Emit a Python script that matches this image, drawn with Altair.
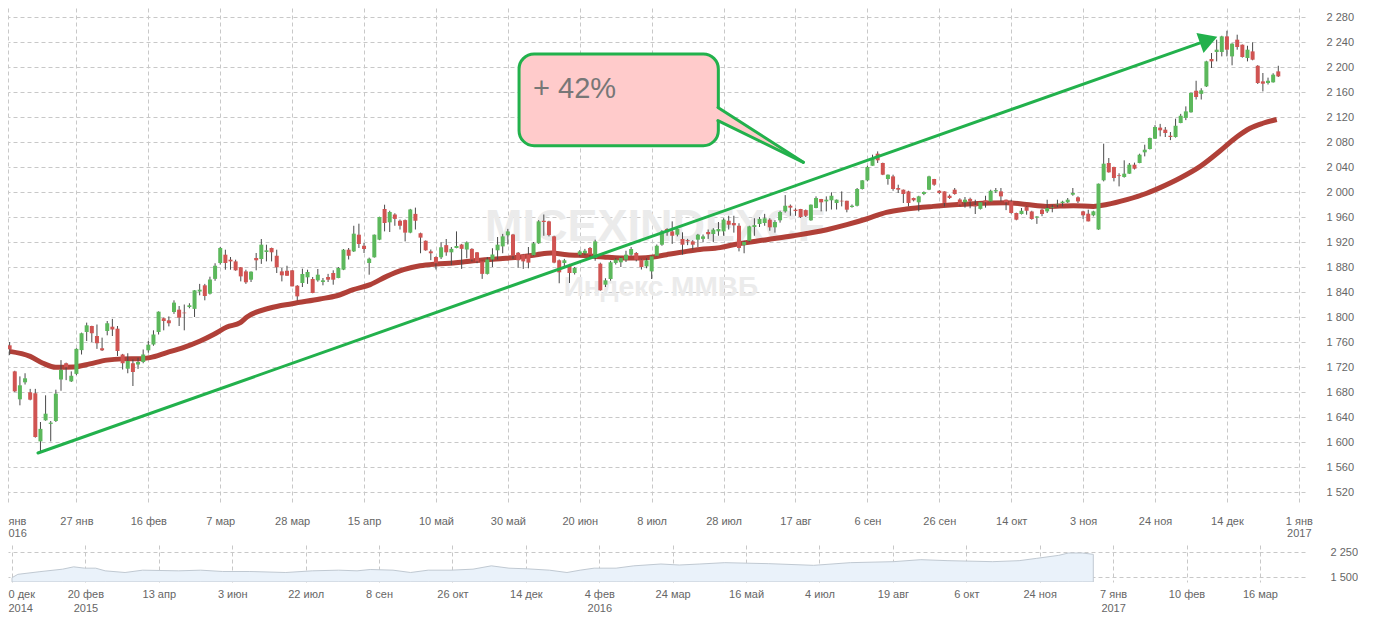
import altair as alt
import pandas as pd

# ---------------- data ----------------
# trading-day index of each candle (x axis is in trading days)
idx = list(range(1, 249))

opens = [1754.7, 1713, 1668.3, 1695.5, 1679.5, 1678, 1601, 1634.7, 1629, 1633.6,
         1700, 1726, 1697, 1709, 1747, 1776, 1785.6, 1769.6, 1750, 1777.6,
         1784.5, 1781.3, 1740, 1717.3, 1726, 1724, 1728, 1746.7, 1756, 1776,
         1798, 1794.7, 1808, 1811.7, 1807, 1816, 1813, 1840.8, 1850.7, 1837.3,
         1861, 1886.4, 1899.7, 1891.7, 1889, 1879.5, 1873, 1859.7, 1894.4, 1892.8,
         1904, 1910.4, 1898, 1873, 1874, 1874.7, 1850, 1854.4, 1863.5, 1860.8,
         1858.7, 1856, 1864, 1870.4, 1862.4, 1875.7, 1907.7, 1905, 1931.7, 1914,
         1886.4, 1895.5, 1923.7, 1972.8, 1951.5, 1964, 1954, 1955, 1935, 1965,
         1934, 1922, 1905, 1896, 1895.5, 1915, 1903.5, 1910.4, 1916, 1908,
         1909, 1903.5, 1889, 1869, 1892, 1906.7, 1913, 1930.7, 1932, 1903,
         1900, 1900, 1899, 1918, 1954, 1953, 1929, 1890.7, 1886.4, 1882,
         1870.4, 1899.7, 1902, 1910.4, 1894.4, 1885.3, 1851.7, 1860.8, 1886.4, 1887.5,
         1891.7, 1899.7, 1902.4, 1891.7, 1881, 1873, 1898, 1915.7, 1940.8, 1937,
         1931.7, 1924.8, 1923, 1921, 1923.7, 1925, 1936, 1932.8, 1937, 1937,
         1954, 1950.4, 1946, 1915, 1922, 1944, 1948.8, 1950.4, 1955.7, 1943.5,
         1954.7, 1969, 1978, 1971.7, 1972.8, 1971, 1954.7, 1974.4, 1988.8, 1985,
         1986.7, 1982.4, 1986, 1986, 1976, 1978, 2004.8, 2018.7, 2042, 2061.3,
         2046.4, 2020.8, 2025, 2006.4, 2003.7, 2001, 1990.4, 1983.5, 1996.8, 2003.7,
         2020.8, 2002, 2001, 1994, 2003.7, 1988, 1983.5, 1989, 1979, 1973,
         1986.7, 1985, 2001, 2001, 1987.7, 1985, 1966.4, 1964.8, 1976, 1969,
         1959, 1971.7, 1969, 1975, 1980, 1982.4, 1983.5, 1995.7, 1991.5, 1969,
         1965.3, 1962.7, 1940, 2018.7, 2046.4, 2040, 2026.7, 2024, 2029.3, 2043.7,
         2046.4, 2063.5, 2068.8, 2085.3, 2103, 2099.7, 2090, 2088, 2110.4, 2118.4,
         2127.5, 2162, 2157, 2169, 2212.8, 2224, 2224, 2249, 2217, 2243.7,
         2235.7, 2214.4, 2225, 2202, 2177, 2174.4, 2175.5, 2193]

closes = [1748.3, 1681, 1690.7, 1701.9, 1667.7, 1608, 1621, 1645.3, 1631, 1677.3,
          1715.5, 1719.5, 1706, 1749, 1774, 1786.7, 1774, 1758, 1746.7, 1790,
          1780, 1745.6, 1726, 1729.6, 1712, 1728, 1740, 1755.7, 1772, 1808.5,
          1793.6, 1790, 1823, 1799, 1806, 1818.7, 1842.7, 1843.7, 1833.6, 1860,
          1882, 1910.4, 1886.4, 1889, 1874.7, 1865, 1855.5, 1872.5, 1890.7, 1915.7,
          1906.7, 1903.5, 1879.5, 1866.7, 1866, 1849, 1833, 1868.8, 1872, 1838.4,
          1867.7, 1858.7, 1859.7, 1859.7, 1878.4, 1907.7, 1898, 1933.3, 1916.8, 1908.8,
          1893.3, 1931.7, 1960, 1950.4, 1968, 1957, 1946, 1935, 1972, 1954,
          1927, 1906.7, 1902, 1886, 1911.5, 1903.5, 1909, 1913.6, 1909, 1919.5,
          1892, 1889, 1869, 1892, 1900, 1915.7, 1929, 1937, 1898, 1891,
          1889, 1887, 1918, 1953, 1952, 1931, 1887, 1871.5, 1890.7, 1870.4,
          1878.4, 1905, 1906, 1899.7, 1921, 1842.7, 1858.7, 1887.5, 1891.7, 1894.4,
          1899.7, 1908.8, 1891.7, 1880, 1890.7, 1897, 1914, 1937, 1935.5, 1930,
          1940.8, 1915.7, 1921, 1915.7, 1931.7, 1929, 1932.5, 1939.7, 1940.8, 1955.7,
          1947.7, 1946.7, 1910.4, 1920, 1945, 1947, 1957, 1957.9, 1943.5, 1952,
          1968, 1978, 1975, 1969.5, 1960, 1962, 1979.7, 1990.4, 1983.5, 1987.7,
          1994, 1987.7, 1985, 1971.7, 1978, 2004.8, 2018.7, 2040, 2054.4, 2050.7,
          2027.7, 2027.7, 2004.8, 2003.7, 1996.8, 1982.4, 1986.7, 1993, 2000, 2025,
          2011.7, 1998.4, 1982.4, 1990.4, 1996.8, 1980, 1987.7, 1985, 1977, 1983.5,
          1983.5, 2002, 2003, 1993, 1983.5, 1966.4, 1955.7, 1970, 1970, 1957,
          1960.8, 1964.8, 1974.4, 1976, 1981, 1984.5, 1987.7, 1998.4, 1985, 1962.7,
          1953, 1969, 2013.3, 2045.3, 2031.5, 2022.4, 2025.5, 2029.3, 2043.7, 2037.3,
          2059.7, 2067.7, 2086.4, 2104, 2098.7, 2094.4, 2088, 2106, 2122, 2129,
          2158.4, 2152, 2162.7, 2209, 2209, 2227.7, 2249, 2227.7, 2237.3, 2232,
          2216, 2227.7, 2211.7, 2174.4, 2173.3, 2178, 2187.7, 2185]

highs = [1760, 1714, 1705, 1710, 1685, 1685, 1632, 1674.7, 1633.6, 1683.7,
         1731, 1727, 1713, 1750, 1775, 1791, 1786, 1788, 1767, 1793.6,
         1797, 1785.6, 1741, 1742, 1732, 1735, 1748, 1761.6, 1778.7, 1809,
         1799, 1801, 1826.7, 1817.6, 1820, 1822, 1843, 1853, 1853, 1864.5,
         1886, 1912, 1907.7, 1896, 1891.7, 1880, 1875.7, 1873, 1902.4, 1924.8,
         1915.7, 1911, 1907.7, 1878.4, 1882, 1875, 1851, 1877.3, 1875.7, 1864,
         1876.8, 1862.4, 1869, 1874.7, 1880, 1908.8, 1910.4, 1946, 1949.3, 1918.4,
         1895, 1932, 1960.5, 1979.7, 1970, 1966, 1956, 1956, 1973, 1975,
         1935, 1922.5, 1908, 1897, 1919.5, 1924.8, 1912, 1937, 1917, 1921,
         1910, 1904, 1890, 1896, 1910, 1928, 1933, 1941, 1933, 1904,
         1901, 1912, 1920, 1955, 1964, 1954, 1930, 1892, 1893, 1885,
         1880, 1907, 1909, 1912, 1923.7, 1887, 1862, 1890, 1894, 1896,
         1906, 1912, 1904, 1893, 1894, 1898, 1916, 1939, 1942, 1953,
         1942, 1935.5, 1925, 1923, 1933, 1932, 1940, 1942, 1952, 1958,
         1962, 1962, 1950, 1922, 1946, 1958, 1960, 1965, 1958, 1955,
         1970, 1995, 1980, 1974, 1973, 1972, 1980, 1993, 1989, 1993,
         1999.5, 1988, 2001, 1986, 1980, 2006.4, 2019, 2042, 2059.7, 2065,
         2047, 2028, 2027.7, 2011.7, 2004, 2002, 1991, 1994, 2001, 2026,
         2021, 2003, 2001, 1996, 2006.4, 1990, 1992, 1991, 1987.7, 1984,
         1994, 2003.7, 2006.4, 2006.4, 1988, 1987.7, 1967, 1974.4, 1977, 1970,
         1961.3, 1973.3, 1987.7, 1979.7, 1987.7, 1986, 1990.4, 2006.4, 1993, 1970,
         1971.7, 1970, 2013.5, 2077.3, 2054.4, 2040.5, 2030, 2050.7, 2046.4, 2047,
         2061.3, 2075.7, 2087, 2107, 2109, 2104, 2096, 2117.3, 2125, 2137,
         2159, 2178, 2166, 2210, 2222.4, 2243.7, 2250, 2258, 2238, 2251.7,
         2236, 2234, 2239.5, 2203, 2190.4, 2183, 2190, 2202]

lows = [1739, 1680, 1658.7, 1692, 1666.7, 1607, 1584, 1634, 1601, 1632,
        1682, 1699, 1696, 1707, 1740, 1761.6, 1760, 1749, 1745.6, 1770.7,
        1769.6, 1737.6, 1716, 1710, 1689.6, 1717, 1726, 1743, 1754, 1772,
        1778.7, 1785, 1805, 1785.6, 1778.7, 1814, 1800, 1834.7, 1826.7, 1836,
        1858, 1884, 1875.7, 1875.7, 1874, 1857, 1853, 1856, 1874.7, 1885,
        1889, 1889, 1870.4, 1857, 1866, 1849, 1826.7, 1848, 1853, 1838,
        1856.5, 1850.7, 1856, 1851.7, 1862, 1875, 1892, 1904, 1910.4, 1902.4,
        1867.7, 1895, 1923, 1937, 1936, 1946, 1940, 1921, 1934, 1940,
        1902, 1906, 1891, 1876, 1892.8, 1898, 1883, 1910, 1877, 1894,
        1889, 1886, 1861, 1868, 1880, 1892, 1902, 1916, 1893, 1879,
        1877, 1878, 1898, 1917, 1930, 1929, 1886, 1854, 1880, 1854.4,
        1868, 1897, 1899, 1895, 1890, 1842, 1848, 1858, 1884, 1880,
        1888, 1898, 1889, 1876, 1878, 1860.8, 1897, 1914, 1930, 1917,
        1929, 1899.7, 1915, 1908, 1912, 1920, 1925, 1920, 1930, 1930,
        1940, 1935, 1905, 1902, 1920, 1930, 1944, 1946, 1938, 1935,
        1951, 1967, 1962, 1962, 1958.4, 1960, 1954, 1974, 1969, 1969,
        1972, 1972, 1977, 1967.5, 1975, 1977, 2004, 2017, 2042, 2046.4,
        2027, 2011.7, 2002, 1998.4, 1982.4, 1977, 1985, 1969, 1995, 2003,
        2010, 1997, 1977, 1989, 1995.7, 1978, 1975, 1974, 1964.8, 1972,
        1975, 1984, 1998.4, 1985, 1971, 1965.3, 1954.7, 1964, 1963.7, 1955.7,
        1949, 1961.3, 1966.4, 1967.5, 1975.7, 1977, 1982.4, 1994, 1982.4, 1957,
        1953, 1961, 1939.5, 2017, 2031, 2017, 2009, 2023, 2029, 2036,
        2046, 2057, 2068, 2085, 2089, 2088, 2083, 2087, 2110, 2115,
        2127, 2148, 2148, 2168, 2198.4, 2209, 2217, 2217, 2202.7, 2227.7,
        2215, 2209, 2210.7, 2172.8, 2161, 2172, 2175, 2184]

# moving average line (trading-day index, value)
ma_x = [1, 5, 7.5, 10, 13.5, 16.6, 19.9, 23, 26.4, 28.3, 31.6, 34.8, 38.1, 40.7,
        43.3, 45.9, 47.2, 51.7, 56, 61.4, 64.7, 67.9, 71.2, 74.4, 77.7, 80.9,
        84.1, 87.4, 91.3, 96.5, 100.4, 103.6, 106.5, 109.5, 113.4, 116.6, 119.8,
        123.7, 126.3, 128.9, 132.8, 135.4, 139.3, 141.9, 148.4, 153.6, 160.1,
        164, 167.8, 171.7, 175.6, 180.8, 186, 188.6, 195.1, 199, 202.9, 208.1,
        212, 214.6, 218.5, 222.4, 225, 228.9, 232.8, 236.7, 239.9, 242.5, 245,
        247.7]
ma_v = [1745, 1737, 1726, 1719.5, 1720, 1725, 1731, 1733, 1733.3, 1735, 1743,
        1751, 1761.6, 1772, 1784, 1791, 1800, 1814.4, 1821.3, 1828.8, 1834,
        1843.7, 1851.7, 1865, 1875.7, 1882, 1884.8, 1886.4, 1890, 1893.3, 1896,
        1899.7, 1902.4, 1899.7, 1898, 1896, 1894.4, 1894.4, 1896, 1899.7, 1905,
        1908, 1911, 1915.7, 1923.7, 1930, 1939.7, 1947.7, 1956.8, 1967.5,
        1972.8, 1977, 1980, 1981.3, 1983, 1980, 1977, 1978, 1977, 1980, 1987.7,
        1998, 2007, 2022.4, 2041, 2066, 2088, 2102, 2110, 2116]

# main x axis labels (every 14 trading days; the first one is cut at the left edge)
x_tick_vals = [0.681] + [14 * k for k in range(1, 19)]
x_tick_labels = ["янв|016", "27 янв", "16 фев", "7 мар", "28 мар", "15 апр",
                 "10 май", "30 май", "20 июн", "8 июл", "28 июл", "17 авг",
                 "6 сен", "26 сен", "14 окт", "3 ноя", "24 ноя", "14 дек",
                 "1 янв|2017"]
y_ticks = list(range(1520, 2281, 40))

# navigator (overview) series, x in label units
nav_u = [0, 0.08, 0.38, 0.69, 0.84, 0.99, 1.14, 1.27, 1.54, 1.78, 2.27, 2.57,
         2.87, 3.24, 3.73, 4.09, 4.45, 4.70, 4.88, 5.19, 5.43, 5.67, 5.98, 6.28,
         6.53, 6.77, 7.02, 7.32, 7.56, 7.74, 7.93, 8.23, 8.47, 8.84, 9.09, 9.37,
         9.71, 10.31, 10.92, 11.42, 12.01, 12.38, 12.75, 13.36, 13.72, 13.96,
         14.26, 14.39, 14.58, 14.73]
nav_v = [1480, 1580, 1660, 1735, 1805, 1765, 1765, 1685, 1635, 1705, 1685, 1705,
         1665, 1665, 1635, 1685, 1705, 1685, 1725, 1705, 1635, 1705, 1705, 1735,
         1835, 1765, 1745, 1705, 1635, 1705, 1765, 1765, 1835, 1890, 1860, 1890,
         1930, 1900, 1850, 1930, 1960, 2020, 1990, 1960, 1990, 2060, 2150, 2220,
         2220, 2180]
nav_tick_vals = list(range(0, 18))
nav_tick_labels = ["0 дек|2014", "20 фев|2015", "13 апр", "3 июн", "22 июл",
                   "8 сен", "26 окт", "14 дек", "4 фев|2016", "24 мар", "16 май",
                   "4 июл", "19 авг", "6 окт", "24 ноя", "7 янв|2017", "10 фев",
                   "16 мар"]

# ---------------- styling ----------------
GREEN = "#5cb85c"
RED = "#d05452"
MA_COL = "#b04038"
ARROW = "#22b14c"
GRID = "#c8c8c8"
FONT = "Liberation Sans"
LABEL = "#666666"

candles = pd.DataFrame({"x": idx, "y": opens, "y2": closes})
wick_df = pd.DataFrame({"x": idx, "y": lows, "y2": highs})
ma_df = pd.DataFrame({"x": ma_x, "y": ma_v})

x_scale = alt.Scale(domain=[0.681, 253.2], nice=False, zero=False, padding=0)
y_scale = alt.Scale(domain=[1499.2, 2294.4], nice=False, zero=False, padding=0)

js_list = "[" + ",".join("'" + s + "'" for s in x_tick_labels) + "]"
x_axis = alt.Axis(values=x_tick_vals, title=None, grid=True, gridColor=GRID,
                  gridDash=[4, 3], gridWidth=1, domain=False, ticks=False,
                  tickSize=0, labelPadding=10, labelFont=FONT, labelFontSize=11,
                  labelColor=LABEL, labelLineHeight=12, labelOverlap=False,
                  labelFlush=2,
                  labelExpr="split(" + js_list + "[round(datum.value/14)], '|')")
y_axis = alt.Axis(values=y_ticks, orient="right", title=None, grid=True,
                  gridColor=GRID, gridDash=[4, 3], gridWidth=1, domain=False,
                  ticks=False, tickSize=0, labelPadding=21, labelAlign="left",
                  labelFont=FONT, labelFontSize=11, labelColor=LABEL,
                  labelOverlap=False, labelFlush=False,
                  labelExpr="replace(format(datum.value, ','), ',', ' ')")

# watermark
wm1 = alt.Chart(pd.DataFrame({"x": [126.65], "y": [1944], "t": ["MICEXINDEXCF"]})).mark_text(
    font=FONT, fontSize=45, fontWeight="bold", color="#ebebeb", baseline="middle",
    align="center").encode(text="t:N")
wm2 = alt.Chart(pd.DataFrame({"x": [127.8], "y": [1846.4], "t": ["Индекс ММВБ"]})).mark_text(
    font=FONT, fontSize=28, fontWeight="bold", color="#ebebeb", baseline="middle",
    align="center").encode(text="t:N")

ma = alt.Chart(ma_df).mark_line(color=MA_COL, strokeWidth=5, interpolate="monotone",
                                clip=True).encode()

wicks = alt.Chart(wick_df).mark_rule(color="#4a4a4a", strokeWidth=1, clip=True).encode(
    y2="y2:Q")
bodies = alt.Chart(candles).mark_bar(size=4, clip=True).encode(
    y2="y2:Q",
    color=alt.condition("datum.y2 >= datum.y", alt.value(GREEN), alt.value(RED)))

# trend arrow
trend = alt.Chart(pd.DataFrame({"x": [6.52], "y": [1582.4], "x2": [232.8], "y2": [2238.7]})
                  ).mark_rule(color=ARROW, strokeWidth=3, strokeCap="round").encode(
    x2="x2:Q", y2="y2:Q")
head = alt.Chart(pd.DataFrame({"x": [234.44], "y": [2243.5]})).mark_point(
    shape="triangle-right", filled=True, size=450, angle=340.5, color=ARROW,
    opacity=1).encode()

# callout
box = alt.Chart(pd.DataFrame({"x": [100.18], "x2": [138.98], "y": [2220.8], "y2": [2074.1]})
                ).mark_rect(cornerRadius=15, fill="#ffcbcb", stroke=ARROW,
                            strokeWidth=3).encode(x2="x2:Q", y2="y2:Q")
tail = alt.Chart(pd.DataFrame({"x": [138.0, 155.53], "y": [2140.0, 2047.5],
                               "y2": [2117.9, 2047.5]})).mark_area(
    fill="#ffcbcb", opacity=1).encode(y2="y2:Q")
tail_lines = alt.Chart(pd.DataFrame({"x": [138.9, 138.9], "y": [2135.2, 2114.1],
                                     "x2": [155.53, 155.53], "y2": [2047.5, 2047.5]})
                       ).mark_rule(color=ARROW, strokeWidth=3, strokeCap="round").encode(
    x2="x2:Q", y2="y2:Q")
pct = alt.Chart(pd.DataFrame({"x": [102.9], "y": [2150.4], "t": ["+ 42%"]})).mark_text(
    font=FONT, fontSize=29, color="#777777", align="left",
    baseline="alphabetic").encode(text="t:N")

main = alt.layer(wm1, wm2, ma, wicks, bodies, trend, head, box, tail, tail_lines, pct
                 ).encode(
    x=alt.X("x:Q", scale=x_scale, axis=x_axis),
    y=alt.Y("y:Q", scale=y_scale, axis=y_axis),
).properties(width=1297, height=497)

# navigator
nav_df = pd.DataFrame({"x": nav_u, "y": nav_v})
nav_js = "[" + ",".join("'" + s + "'" for s in nav_tick_labels) + "]"
nav_x_axis = alt.Axis(values=nav_tick_vals, title=None, grid=True, gridColor=GRID,
                      gridDash=[4, 3], domain=False, ticks=False, tickSize=0,
                      labelPadding=6, labelFont=FONT, labelFontSize=11,
                      labelColor=LABEL, labelLineHeight=14, labelOverlap=False,
                      labelFlush=6, labelFlushOffset=4,
                      labelExpr="split(" + nav_js + "[round(datum.value)], '|')")
nav_y_axis = alt.Axis(values=[1500, 2250], orient="right", title=None, grid=True,
                      gridColor=GRID, gridDash=[4, 3], domain=False, ticks=False,
                      tickSize=0, labelPadding=25, labelAlign="left", labelFont=FONT,
                      labelFontSize=11, labelColor=LABEL, labelOverlap=False,
                      labelFlush=False,
                      labelExpr="replace(format(datum.value, ','), ',', ' ')")
nav_area = alt.Chart(nav_df).mark_area(fill="#eaf2fa", stroke="#c0c9d2", strokeWidth=1,
                                       clip=True).encode(
    x=alt.X("x:Q", scale=alt.Scale(domain=[-0.0545, 17.614], nice=False, zero=False,
                                   padding=0),
            axis=nav_x_axis),
    y=alt.Y("y:Q", scale=alt.Scale(domain=[1350, 2460], nice=False, zero=False),
            axis=nav_y_axis),
    y2=alt.datum(1350),
).properties(width=1297, height=37)

chart = alt.vconcat(main, nav_area, spacing=40, bounds="flush").properties(
    padding=0, background="white"
).configure_view(stroke=None)

chart.save("out.html", embed_options={"renderer": "svg", "actions": False})
